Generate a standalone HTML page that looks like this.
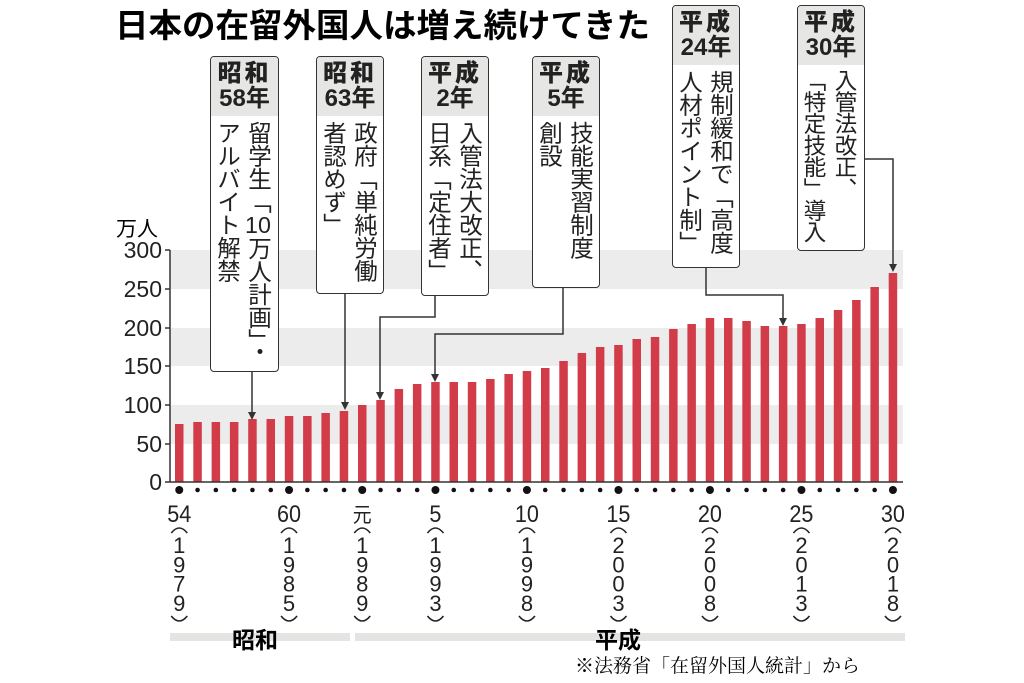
<!DOCTYPE html>
<html><head><meta charset="utf-8"><style>
body{margin:0;background:#fff;}
#c{position:relative;width:1024px;height:683px;overflow:hidden;font-family:"Liberation Sans","Noto Sans CJK JP",sans-serif;color:#222;}
.box{position:absolute;border:1.5px solid #333;border-radius:4px;background:#fff;box-sizing:border-box;overflow:hidden;}
.hd{background:#e6e6e4;font-weight:bold;font-size:24px;line-height:25px;text-align:center;padding:4px 0 5px;}
.hd b{letter-spacing:3px;}
.bd{writing-mode:vertical-rl;font-size:23.5px;line-height:31px;padding:5px 2px 0 0;height:100%;letter-spacing:-0.5px;}
.tcy{text-combine-upright:all;}
</style></head><body><div id="c">
<svg width="1024" height="683" style="position:absolute;left:0;top:0">
<g fill="#ececec">
<rect x="170" y="250" width="733" height="39"/>
<rect x="170" y="328" width="733" height="38"/>
<rect x="170" y="405" width="733" height="39"/>
</g>
<g id="bars" fill="#d23c49"></g>
<g stroke="#333" stroke-width="1.5" fill="none">
<line x1="170" y1="250" x2="170" y2="482"/>
<line x1="170" y1="482" x2="903" y2="482"/>
<path d="M165 250H170M165 289H170M165 328H170M165 366H170M165 405H170M165 444H170M165 482H170"/>
<path d="M252 371V414"/>
<path d="M345 293V404"/>
<path d="M435 295V317H380V394"/>
<path d="M563 287V334H435V376"/>
<path d="M706 267V295H783V320"/>
<path d="M865 159H893V266"/>
</g>
<g fill="#333">
<path d="M248 412L256 412L252 420Z"/>
<path d="M341 402L349 402L345 410Z"/>
<path d="M376 392L384 392L380 400Z"/>
<path d="M431 374L439 374L435 382Z"/>
<path d="M779 318L787 318L783 326Z"/>
<path d="M889 264L897 264L893 272Z"/>
</g>
<g id="dots" fill="#111"></g>
<g id="xl" fill="#222" font-family="Liberation Sans, sans-serif" text-anchor="middle"></g>
<g font-size="23" text-anchor="end" fill="#222" font-family="Liberation Sans, sans-serif">
<text x="162" y="258">300</text><text x="162" y="297">250</text><text x="162" y="336">200</text>
<text x="162" y="374">150</text><text x="162" y="413">100</text><text x="162" y="452">50</text><text x="162" y="490">0</text>
</g>
<text x="116" y="236" font-size="21" font-family="Noto Sans CJK JP, sans-serif">万人</text>
<text x="115" y="37" font-size="33" font-weight="bold" font-family="Noto Sans CJK JP, sans-serif" textLength="535" lengthAdjust="spacingAndGlyphs">日本の在留外国人は増え続けてきた</text>
<rect x="170" y="633" width="180" height="8" fill="#e4e4e2"/>
<rect x="355" y="633" width="550" height="8" fill="#e4e4e2"/>
<text x="232" y="648" font-size="23" font-weight="bold" font-family="Noto Sans CJK JP, sans-serif">昭和</text>
<text x="595" y="648" font-size="23" font-weight="bold" font-family="Noto Sans CJK JP, sans-serif">平成</text>
<text x="575" y="672" font-size="19" font-family="Noto Serif CJK SC, serif">※法務省「在留外国人統計」から</text>
</svg>

<div class="box" style="left:210px;top:56px;width:69px;height:316px"><div class="hd"><b>昭和</b><br>58年</div><div class="bd">留学生「<span class="tcy">10</span>万人計画」・<br>アルバイト解禁</div></div>
<div class="box" style="left:316px;top:56px;width:68px;height:238px"><div class="hd"><b>昭和</b><br>63年</div><div class="bd">政府「単純労働<br>者認めず」</div></div>
<div class="box" style="left:421px;top:56px;width:68px;height:240px"><div class="hd"><b>平成</b><br>2年</div><div class="bd">入管法大改正、<br>日系「定住者」</div></div>
<div class="box" style="left:532px;top:56px;width:68px;height:232px"><div class="hd"><b>平成</b><br>5年</div><div class="bd">技能実習制度<br>創設</div></div>
<div class="box" style="left:672px;top:5px;width:68px;height:263px"><div class="hd"><b>平成</b><br>24年</div><div class="bd">規制緩和で「高度<br>人材ポイント制」</div></div>
<div class="box" style="left:797px;top:5px;width:68px;height:246px"><div class="hd"><b>平成</b><br>30年</div><div class="bd" style="font-size:22.5px;letter-spacing:-0.8px;padding-top:4px">入管法改正、<br>「特定技能」導入</div></div>
</div>
<script>
var tops=[424,422,422,422,419,419,416,416,413,411,405,400,389,384,382,382,382,379,374,371,368,361,353,347,345,339,337,329,324,318,318,321,326,326,324,318,310,300,287,273];
var big=[0,6,10,14,19,24,29,34,39];
var g=document.getElementById('bars'),d=document.getElementById('dots'),xl=document.getElementById('xl'),ns='http://www.w3.org/2000/svg';
function el(n,a,p,t){var e=document.createElementNS(ns,n);for(var k in a)e.setAttribute(k,a[k]);if(t!=null)e.textContent=t;p.appendChild(e);return e;}
tops.forEach(function(t,i){var x=175+i*18.3;
el('rect',{x:x,y:t,width:8.5,height:482-t},g);
el('circle',{cx:x+4.25,cy:490,r:big.indexOf(i)>=0?4:2.3},d);});
var labs=[[0,'54','1979'],[6,'60','1985'],[10,'元','1989'],[14,'5','1993'],[19,'10','1998'],[24,'15','2003'],[29,'20','2008'],[34,'25','2013'],[39,'30','2018']];
labs.forEach(function(l){var cx=179.25+l[0]*18.3;
var t=el('text',{x:cx,y:522,'font-size':l[1]=='元'?21:24,transform:'translate('+cx+',0) scale(0.9,1) translate('+(-cx)+',0)'},xl,l[1]);
if(l[1]=='元')t.setAttribute('font-family','Noto Sans CJK JP, sans-serif');
el('path',{d:'M'+(cx-8)+' 533Q'+cx+' 523 '+(cx+8)+' 533',stroke:'#222','stroke-width':1.6,fill:'none'},xl);
for(var k=0;k<4;k++)el('text',{x:cx,y:553+k*19.3,'font-size':22},xl,l[2][k]);
el('path',{d:'M'+(cx-8)+' 616Q'+cx+' 626 '+(cx+8)+' 616',stroke:'#222','stroke-width':1.6,fill:'none'},xl);
});
</script>
</body></html>
